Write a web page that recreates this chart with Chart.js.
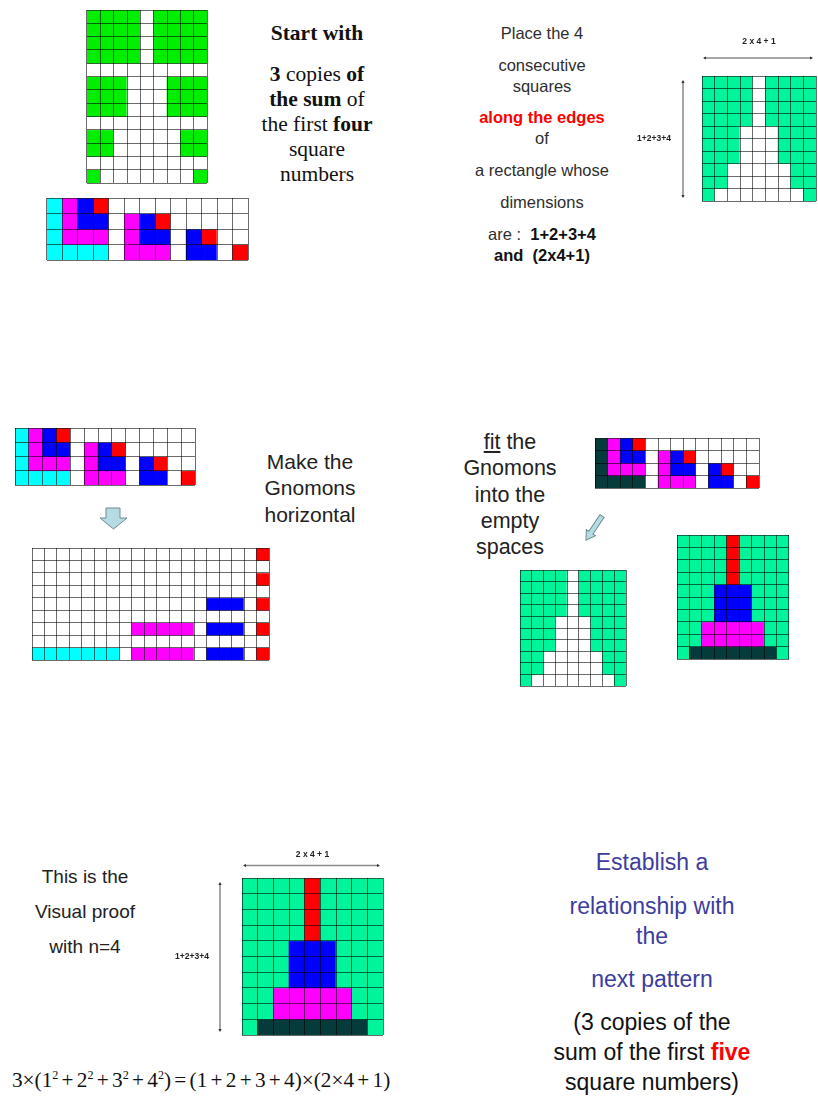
<!DOCTYPE html>
<html>
<head>
<meta charset="utf-8">
<script src="https://cdn.jsdelivr.net/npm/chart.js@4.4.0/dist/chart.umd.min.js"></script>
<style>
html, body { margin: 0; padding: 0; background: #fff; }
#page { position: relative; width: 818px; height: 1101px; overflow: hidden; font-family: "Liberation Sans", Arial, sans-serif; }
#page canvas { position: absolute; }
.ln { position: absolute; width: 300px; text-align: center; white-space: nowrap; }
.serif { font-family: "Liberation Serif", "Times New Roman", serif; }
.red { color: #ff0000; font-weight: bold; }
svg { position: absolute; left: 0; top: 0; }
#eq { position: absolute; left: 12px; top: 1066px; font-size: 21px; line-height: 28px; white-space: nowrap; color: #111; word-spacing: -2px; transform-origin: 0 50%; }
#eq sup { font-size: 12px; line-height: 0; vertical-align: 8px; }
</style>
</head>
<body>
<div id="page">
  <svg width="818" height="1101">
    <!-- down arrow -->
    <polygon points="106,508 120,508 120,518 127,518 113.5,529 100,518 106,518" fill="#b7dbe2" stroke="#6d8c92" stroke-width="1"/>
    <!-- diagonal arrow -->
    <g transform="translate(602,516) rotate(33.7)">
      <polygon points="-2.5,0 2.5,0 2.5,20 5.5,20 0,29 -5.5,20 -2.5,20" fill="#b7dbe2" stroke="#6d8c92" stroke-width="1"/>
    </g>
  </svg>
  <div id="eq" class="serif">3&times;(1<sup>2</sup> + 2<sup>2</sup> + 3<sup>2</sup> + 4<sup>2</sup>) = (1 + 2 + 3 + 4)&times;(2&times;4 + 1)</div>
</div>
<script>
// cell colours by letter
const cellColors = {
    '.': '#ffffff',
    g: '#00ee00',   // bright green copies
    e: '#00f59a',   // mint rectangle
    c: '#00ffff',
    m: '#ff00ff',
    b: '#0000ff',
    r: '#ff0000',
    d: '#053b3b'
};

// 3 copies of 1²+2²+3²+4² (top left)
const copiesRows = [
    'gggg.gggg', 'gggg.gggg', 'gggg.gggg', 'gggg.gggg',
    '.........',
    'ggg...ggg', 'ggg...ggg', 'ggg...ggg',
    '.........',
    'gg.....gg', 'gg.....gg',
    '.........',
    'g.......g'
];

// squares split into gnomons
const gnomonRows = [
    'cmbr.........',
    'cmbb.mbr.....',
    'cmmm.mbb.br..',
    'cccc.mmm.bb.r'
];

const gnomonFitRows = [
    'dmbr.........',
    'dmbb.mbr.....',
    'dmmm.mbb.br..',
    'dddd.mmm.bb.r'
];

// rectangle with the squares along the edges
const rectRows = [
    'eeee.eeee', 'eeee.eeee', 'eeee.eeee', 'eeee.eeee',
    'eee...eee', 'eee...eee', 'eee...eee',
    'ee.....ee', 'ee.....ee',
    'e.......e'
];

// gnomons laid flat
const flatRows = [
    '..................r',
    '...................',
    '..................r',
    '...................',
    '..............bbb.r',
    '...................',
    '........mmmmm.bbb.r',
    '...................',
    'ccccccc.mmmmm.bbb.r'
];

// rectangle filled in
const filledRows = [
    'eeeereeee', 'eeeereeee', 'eeeereeee', 'eeeereeee',
    'eeebbbeee', 'eeebbbeee', 'eeebbbeee',
    'eemmmmmee', 'eemmmmmee',
    'eddddddde'
];

const widthLabel = '2 x 4 + 1';
const heightLabel = '1+2+3+4';

const page = document.getElementById('page');

// fit the equation to the width it has in the picture
const eq = document.getElementById('eq');
eq.style.transform = 'scaleX(' + (378 / eq.offsetWidth) + ')';

// Text lines
function addLines(cx, size, color, lines, cls) {
    lines.forEach(([html, y]) => {
        const div = document.createElement('div');
        div.className = 'ln' + (cls ? ' ' + cls : '');
        div.style.left = (cx - 150) + 'px';
        div.style.top = (y - size * 0.6) + 'px';
        div.style.fontSize = size + 'px';
        div.style.lineHeight = (size * 1.2) + 'px';
        div.style.color = color;
        div.innerHTML = html;
        page.appendChild(div);
    });
}

addLines(317, 21.5, '#111', [
    ['<b>Start with</b>', 34],
    ['<b>3</b> copies <b>of</b>', 75],
    ['<b>the sum</b> of', 100],
    ['the first <b>four</b>', 125],
    ['square', 150],
    ['numbers', 175]
], 'serif');

addLines(542, 16.5, '#2e2e2e', [
    ['Place the 4', 34],
    ['consecutive', 66],
    ['squares', 87],
    ['<span class="red">along the edges</span>', 118],
    ['of', 139],
    ['a rectangle whose', 171],
    ['dimensions', 203],
    ['are :&nbsp; <b style="color:#111">1+2+3+4</b>', 235],
    ['<b style="color:#111">and&nbsp; (2x4+1)</b>', 256]
]);

addLines(310, 21, '#222', [
    ['Make the', 462],
    ['Gnomons', 488],
    ['horizontal', 515]
]);

addLines(510, 21.5, '#222', [
    ['<u>fit</u> the', 443],
    ['Gnomons', 469],
    ['into the', 496],
    ['empty', 522],
    ['spaces', 548]
]);

addLines(85, 19, '#222', [
    ['This is the', 877],
    ['Visual proof', 912],
    ['with n=4', 947]
]);

addLines(652, 23, '#3d3d9e', [
    ['Establish a', 863],
    ['relationship with', 907],
    ['the', 937],
    ['next pattern', 980]
]);

addLines(652, 23, '#111', [
    ['(3 copies of the', 1023],
    ['sum of the first <span class="red">five</span>', 1053],
    ['square numbers)', 1083]
]);

// Dimension arrows drawn from the grid's own scales
function arrowHead(ctx, x, y, dx, dy) {
    ctx.beginPath();
    ctx.moveTo(x, y);
    ctx.lineTo(x - dx * 3 - dy * 1.6, y - dy * 3 + dx * 1.6);
    ctx.lineTo(x - dx * 3 + dy * 1.6, y - dy * 3 - dx * 1.6);
    ctx.closePath();
    ctx.fill();
}

function dimPlugin(d) {
    return {
        id: 'dims',
        afterDraw(chart) {
            const ctx = chart.ctx;
            const xs = chart.scales.x, ys = chart.scales.y;
            ctx.save();
            ctx.strokeStyle = '#8a8a8a';
            ctx.fillStyle = '#333';
            ctx.lineWidth = 1.5;

            const hy = ys.top - d.hGap;
            ctx.beginPath();
            ctx.moveTo(xs.left + 2, hy);
            ctx.lineTo(xs.right - 4, hy);
            ctx.stroke();
            arrowHead(ctx, xs.left + 1, hy, -1, 0);
            arrowHead(ctx, xs.right - 3, hy, 1, 0);

            const vx = xs.left - d.vGap;
            ctx.beginPath();
            ctx.moveTo(vx, ys.top + 5);
            ctx.lineTo(vx, ys.bottom - 4);
            ctx.stroke();
            arrowHead(ctx, vx, ys.top + 4, 0, -1);
            arrowHead(ctx, vx, ys.bottom - 3, 0, 1);

            ctx.fillStyle = '#222';
            ctx.font = 'bold 8.5px "Liberation Sans", Arial, sans-serif';
            ctx.textAlign = 'center';
            ctx.textBaseline = 'middle';
            ctx.fillText(widthLabel, (xs.left + xs.right) / 2, ys.top - d.hLabel);
            ctx.fillText(heightLabel, xs.left - d.vLabel, (ys.top + ys.bottom) / 2);
            ctx.restore();
        }
    };
}

// One grid = stacked bar chart, one dataset per row, one category per column
function makeGrid(rows, box, extra) {
    extra = extra || {};
    const cols = rows[0].length;
    const pad = Object.assign({ top: 1, right: 1, bottom: 1, left: 1 }, extra.pad);
    const canvas = document.createElement('canvas');
    canvas.width = box.w + pad.left + pad.right;
    canvas.height = box.h + pad.top + pad.bottom;
    canvas.style.left = (box.x - pad.left) + 'px';
    canvas.style.top = (box.y - pad.top) + 'px';
    page.appendChild(canvas);

    const datasets = rows.map(row => ({
        data: row.split('').map(() => 1),
        backgroundColor: row.split('').map(ch => cellColors[ch]),
        borderWidth: 0,
        barPercentage: 1,
        categoryPercentage: 1
    }));

    const lineColor = 'rgba(0,0,0,0.58)';

    new Chart(canvas, {
        type: 'bar',
        data: {
            labels: [...Array(cols).keys()].map(String),
            datasets: datasets
        },
        options: {
            responsive: false,
            animation: false,
            events: [],
            layout: { padding: pad },
            plugins: {
                legend: { display: false },
                tooltip: { enabled: false }
            },
            scales: {
                x: {
                    stacked: true,
                    offset: true,
                    grid: { z: 1, color: lineColor, offset: true, drawTicks: false },
                    ticks: { display: false },
                    border: { display: false }
                },
                y: {
                    stacked: true,
                    reverse: true,
                    min: 0,
                    max: rows.length,
                    grid: { z: 1, color: lineColor, drawTicks: false },
                    ticks: { display: false, stepSize: 1 },
                    border: { display: false }
                }
            }
        },
        plugins: extra.dims ? [dimPlugin(extra.dims)] : []
    });
}

makeGrid(copiesRows, { x: 87, y: 10, w: 120, h: 173 });
makeGrid(gnomonRows, { x: 47, y: 198, w: 201, h: 62 });
makeGrid(rectRows, { x: 702, y: 76, w: 114, h: 125 }, {
    pad: { top: 42, left: 66 },
    dims: { hGap: 18, hLabel: 34, vGap: 19, vLabel: 48 }
});
makeGrid(gnomonRows, { x: 15, y: 428, w: 180, h: 57 });
makeGrid(flatRows, { x: 32, y: 548, w: 237, h: 112 });
makeGrid(gnomonFitRows, { x: 595, y: 438, w: 164, h: 50 });
makeGrid(rectRows, { x: 520, y: 570, w: 106, h: 116 });
makeGrid(filledRows, { x: 677, y: 535, w: 112, h: 124 });
makeGrid(filledRows, { x: 242, y: 878, w: 141, h: 157 }, {
    pad: { top: 32, left: 76 },
    dims: { hGap: 12.5, hLabel: 23, vGap: 22, vLabel: 50 }
});
</script>
</body>
</html>
